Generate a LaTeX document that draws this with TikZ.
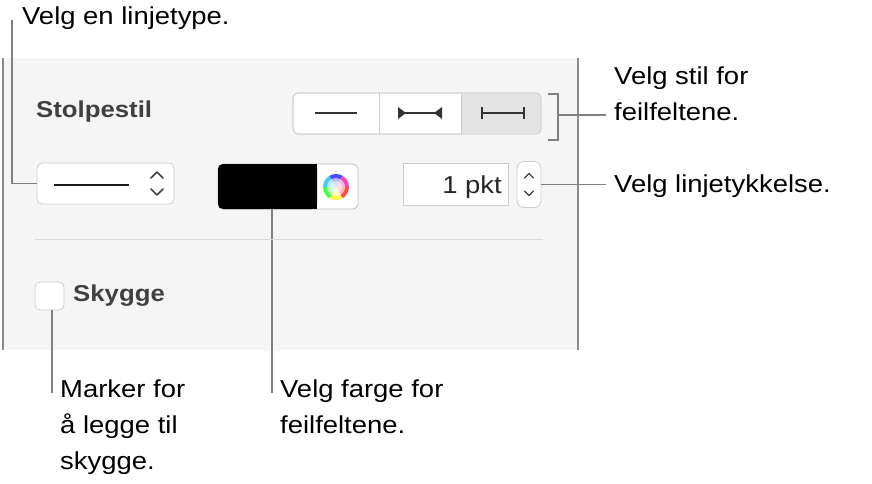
\documentclass[tikz,border=0pt]{standalone}
\usepackage{fontspec}
\setmainfont[FakeStretch=1.12]{Liberation Sans}
\begin{document}
\begin{tikzpicture}[x=1pt,y=-1pt,
  lbl/.style={font=\fontsize{24.5}{36}\selectfont,text=black,inner sep=0pt,align=left},
  call/.style={draw=black!50,line width=1.3pt},
  ctl/.style={draw=black!20,fill=white,rounded corners=5pt,line width=0.8pt},
  bold/.style={font=\fontsize{23}{26}\selectfont\bfseries,text=black!75,inner sep=0pt}]
\useasboundingbox (0,0) rectangle (872,484);
\fill[black!4] (3,58) rectangle (578,350);
\draw[black!45,line width=1.3pt] (3,58) -- (3,350) (578,58) -- (578,350);
\node[bold,anchor=west] (stol) at (36,112) {Stolpestil};
% segmented control
\node[ctl,minimum width=248,minimum height=41,inner sep=0pt] (seg) at (417,113.5) {};
\fill[black!11,rounded corners=5pt] (461,94) rectangle (540.5,133);
\fill[black!11] (461,94) rectangle (470,133);
\draw[black!20,line width=0.8pt] (379,93) -- (379,134) (461,93) -- (461,134);
\draw[black!20,line width=0.8pt,rounded corners=5pt] (293,93) rectangle (541,134);
\draw[black!80,line width=1.3pt] (315,113) -- (357,113);
\draw[black!80,line width=1.3pt] (399,113) -- (441,113);
\fill[black!80] (398,107) -- (398,119) -- (406,113) -- cycle;
\fill[black!80] (442,107) -- (442,119) -- (434,113) -- cycle;
\draw[black!80,line width=1.3pt] (482,113) -- (524,113) (482,107) -- (482,119) (524,107) -- (524,119);
% bracket
\draw[call] (548,94) -- (558,94) -- (558,140) -- (548,140);
\coordinate (br) at (558,115);
\node[lbl,anchor=north west] (stil) at (614,67) {Velg stil for\\feilfeltene.};
\draw[call] (br) -- (606,115);
% popup
\node[ctl,minimum width=137,minimum height=41,inner sep=0pt] (pop) at (105.5,183.5) {};
\draw[black!90,line width=1.6pt] (54,185) -- (129,185);
\draw[black!75,line width=1.5pt,line cap=round,line join=round] (151,178) -- (157,172) -- (163,178) (151,189) -- (157,195) -- (163,189);
\node[lbl,anchor=west] (type) at (22,18) {Velg en linjetype.};
\draw[call] (pop.west) -- (12,183.5) -- (12,20);
% color well
\node[ctl,rounded corners=5pt,draw=black!25,minimum width=140,minimum height=45,inner sep=0pt] (well) at (288,186.5) {};
\fill[black,rounded corners=5pt] (218,164) rectangle (317,209);
\fill[black] (300,164) rectangle (317,209);
\foreach \a/\c in {0/red,60/yellow,120/green,180/cyan,240/blue,300/magenta}{
  \fill[\c!70] (336,187) -- ++(\a:13) arc[start angle=\a,end angle=\a+60,radius=13] -- cycle;}
\fill[white,opacity=0.6] (336,187) circle (9);
\fill[white,opacity=0.5] (336,187) circle (6);
\node[lbl,anchor=north west] (farge) at (280,380) {Velg farge for\\feilfeltene.};
\draw[call] (272,209) -- (272,393);
% text field
\node[draw=black!20,fill=white,line width=0.8pt,minimum width=105,minimum height=42,inner sep=0pt] (fld) at (455.5,184) {};
\node[lbl,anchor=east,text=black!85] at (502,187) {1 pkt};
\node[ctl,rounded corners=7pt,minimum width=24,minimum height=46,inner sep=0pt] (step1) at (529,184.5) {};
\draw[black!75,line width=1.3pt,line cap=round,line join=round] (524.5,178) -- (529,173.5) -- (533.5,178) (524.5,191) -- (529,195.5) -- (533.5,191);
\node[lbl,anchor=west] (tyk) at (614,186) {Velg linjetykkelse.};
\draw[call] (step1.east) -- (606,184.5);
% divider
\draw[black!15,line width=1pt] (35,239) -- (543,239);
% checkbox
\node[ctl,minimum width=29,minimum height=28,inner sep=0pt] (cb) at (49.5,296) {};
\node[bold,anchor=west] (sky) at (73,296) {Skygge};
\node[lbl,anchor=north west] (mark) at (60,380) {Marker for\\å legge til\\skygge.};
\draw[call] (52,310) -- (52,393);
\end{tikzpicture}
\end{document}
